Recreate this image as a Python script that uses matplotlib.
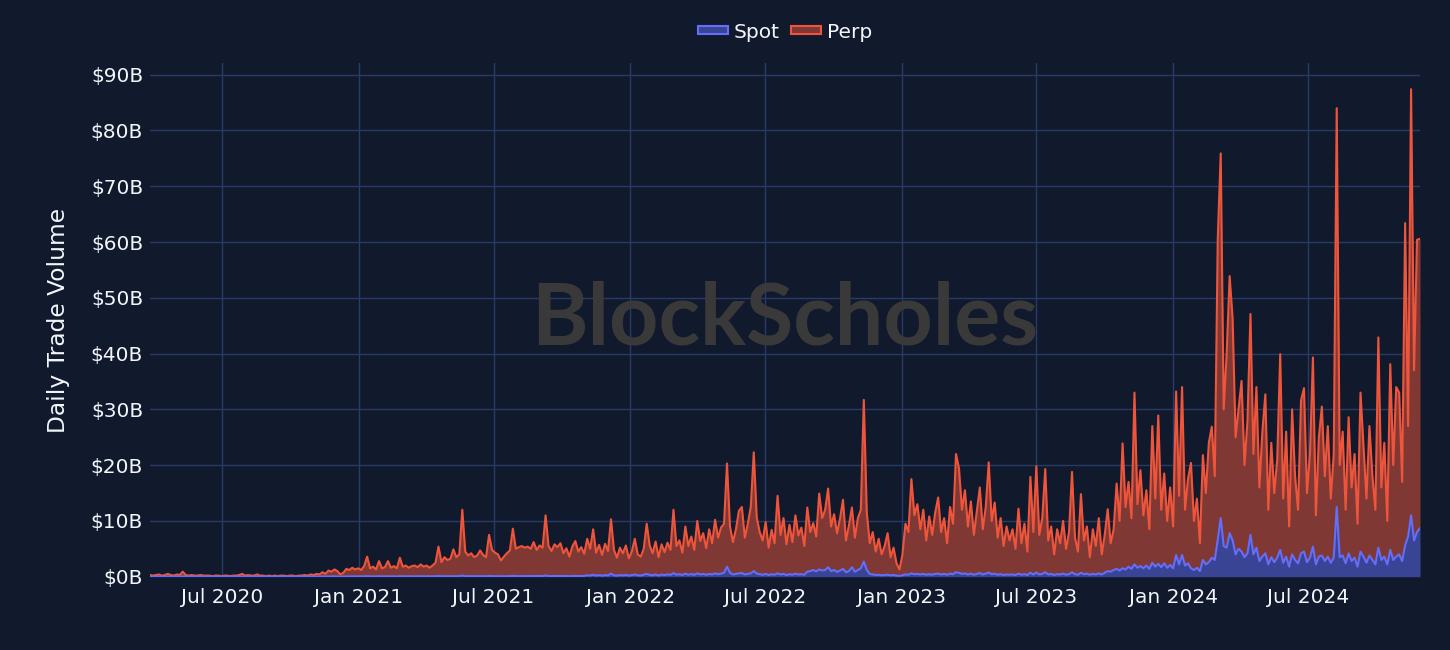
import matplotlib as mpl

mpl.use("Agg")
import matplotlib.pyplot as plt
import matplotlib.dates as mdates
import pandas as pd
from matplotlib.patches import Patch
from matplotlib.ticker import FuncFormatter

# daily volumes sampled every 4 days, in $B
START = "2020-03-26"
STEP = "4D"

PERP = [
    0.3, 0.2, 0.3, 0.4, 0.2, 0.3, 0.5, 0.3, 0.2, 0.4, 0.3, 0.9, 0.3, 0.2, 0.3, 0.2, 0.2, 0.3, 0.2, 0.2,
    0.2, 0.1, 0.2, 0.2, 0.1, 0.2, 0.2, 0.1, 0.2, 0.2, 0.3, 0.5, 0.2, 0.3, 0.2, 0.2, 0.4, 0.2, 0.2, 0.1,
    0.2, 0.1, 0.2, 0.1, 0.2, 0.2, 0.1, 0.2, 0.2, 0.1, 0.2, 0.2, 0.3, 0.2, 0.4, 0.3, 0.5, 0.4, 0.8, 0.5,
    1.1, 0.9, 1.3, 1.0, 0.4, 0.7, 1.4, 1.2, 1.6, 1.3, 1.5, 1.2, 1.9, 3.6, 1.5, 1.8, 1.3, 2.8, 1.5, 1.7,
    2.8, 1.6, 1.9, 1.5, 3.4, 1.8, 2.0, 1.6, 1.9, 2.0, 1.7, 2.2, 1.8, 2.0, 1.6, 2.0, 2.5, 5.4, 2.6, 3.5,
    3.0, 3.2, 4.9, 3.5, 4.0, 12.0, 4.5, 3.8, 4.2, 3.5, 3.8, 4.7, 3.9, 3.5, 7.5, 4.8, 4.3, 4.0, 2.9, 3.6,
    4.2, 4.7, 8.6, 5.0, 5.3, 5.5, 5.2, 5.4, 5.0, 6.2, 4.8, 5.6, 5.2, 11.0, 5.5, 4.6, 5.8, 5.3, 6.0, 4.2,
    5.1, 3.6, 5.4, 6.4, 4.5, 5.3, 4.1, 6.8, 5.0, 8.5, 4.3, 5.7, 3.9, 5.9, 4.6, 10.3, 4.8, 3.4, 5.2, 4.2,
    5.6, 3.3, 4.5, 6.8, 4.0, 3.6, 5.0, 9.5, 5.6, 4.2, 6.3, 3.5, 5.8, 4.4, 6.1, 4.8, 12.0, 5.5, 6.5, 4.3,
    9.0, 5.5, 7.2, 4.8, 10.0, 6.4, 7.8, 5.1, 8.5, 6.0, 10.2, 7.0, 8.8, 9.5, 20.3, 9.0, 6.2, 8.5, 11.8, 12.5,
    7.0, 9.5, 12.5, 22.3, 10.6, 8.0, 6.5, 9.8, 5.2, 8.4, 6.0, 14.5, 7.5, 10.5, 5.8, 9.3, 6.2, 11.0, 7.4, 8.8,
    5.5, 12.4, 8.0, 9.6, 7.2, 14.9, 10.5, 12.0, 15.8, 9.0, 11.2, 7.8, 10.4, 13.8, 6.5, 9.2, 12.4, 7.0, 10.5, 12.0,
    31.7, 11.5, 6.0, 8.0, 4.5, 6.8, 4.0, 5.5, 7.8, 3.5, 5.2, 2.4, 1.3, 4.0, 9.5, 8.0, 17.5, 11.0, 13.0, 8.5,
    12.0, 6.5, 10.8, 7.5, 11.5, 14.2, 8.0, 10.5, 6.0, 12.5, 9.5, 22.0, 19.4, 12.0, 15.5, 9.0, 13.5, 7.5, 11.8, 16.0,
    8.5, 12.5, 20.5, 10.0, 13.3, 7.0, 10.5, 5.5, 9.0, 6.5, 8.5, 5.0, 12.2, 6.0, 9.5, 4.5, 17.9, 8.0, 19.8, 7.5,
    10.5, 19.3, 6.5, 9.0, 4.0, 8.5, 6.0, 10.0, 5.0, 8.0, 18.8, 7.0, 4.5, 14.8, 6.5, 9.0, 3.5, 8.5, 5.5, 10.5,
    4.0, 7.5, 12.1, 6.0, 8.5, 16.7, 10.0, 23.9, 12.5, 17.0, 10.5, 33.0, 13.0, 19.1, 11.0, 15.5, 8.5, 27.0, 14.0, 28.9,
    12.0, 18.5, 10.0, 16.0, 9.0, 33.2, 14.5, 34.0, 12.0, 17.5, 20.4, 10.0, 14.0, 6.0, 21.8, 15.0, 24.0, 26.9, 18.0, 60.5,
    75.9, 30.0, 40.0, 53.9, 46.3, 25.0, 30.0, 35.1, 20.0, 28.0, 47.1, 22.0, 34.0, 16.0, 26.0, 32.7, 12.0, 24.0, 15.0, 21.0,
    39.9, 14.0, 26.0, 9.0, 30.0, 18.0, 12.0, 31.6, 33.8, 15.0, 22.0, 39.3, 11.0, 25.0, 30.5, 18.0, 27.0, 14.0, 22.0, 84.0,
    20.0, 26.0, 12.0, 28.6, 16.0, 22.0, 9.5, 33.0, 23.4, 14.0, 27.0, 18.0, 12.0, 42.9, 16.0, 24.0, 10.0, 38.1, 20.0, 34.0,
    33.0, 17.0, 63.4, 27.0, 87.4, 37.0, 60.4, 60.6,
]

SPOT = [
    0.03, 0.02, 0.03, 0.04, 0.02, 0.03, 0.03, 0.02, 0.02, 0.03, 0.03, 0.05, 0.03, 0.02, 0.02, 0.02, 0.02, 0.03, 0.02, 0.02,
    0.02, 0.01, 0.02, 0.02, 0.01, 0.02, 0.02, 0.01, 0.02, 0.02, 0.02, 0.03, 0.02, 0.02, 0.02, 0.02, 0.03, 0.02, 0.02, 0.01,
    0.02, 0.01, 0.02, 0.01, 0.02, 0.02, 0.01, 0.02, 0.02, 0.01, 0.02, 0.02, 0.02, 0.02, 0.03, 0.02, 0.03, 0.03, 0.04, 0.03,
    0.04, 0.04, 0.05, 0.04, 0.03, 0.04, 0.05, 0.05, 0.06, 0.05, 0.06, 0.05, 0.06, 0.09, 0.06, 0.06, 0.05, 0.08, 0.06, 0.06,
    0.08, 0.06, 0.07, 0.06, 0.09, 0.07, 0.07, 0.06, 0.07, 0.07, 0.06, 0.07, 0.07, 0.07, 0.06, 0.07, 0.08, 0.12, 0.08, 0.09,
    0.08, 0.09, 0.10, 0.09, 0.10, 0.20, 0.10, 0.09, 0.10, 0.09, 0.09, 0.10, 0.09, 0.09, 0.14, 0.10, 0.10, 0.09, 0.08, 0.09,
    0.10, 0.10, 0.15, 0.11, 0.11, 0.12, 0.11, 0.12, 0.11, 0.13, 0.11, 0.12, 0.12, 0.20, 0.12, 0.11, 0.13, 0.12, 0.13, 0.11,
    0.12, 0.10, 0.13, 0.14, 0.12, 0.14, 0.15, 0.25, 0.22, 0.35, 0.20, 0.30, 0.18, 0.28, 0.22, 0.55, 0.25, 0.18, 0.30, 0.22,
    0.32, 0.20, 0.28, 0.40, 0.25, 0.22, 0.35, 0.50, 0.32, 0.25, 0.40, 0.22, 0.38, 0.28, 0.42, 0.32, 0.65, 0.35, 0.45, 0.30,
    0.55, 0.35, 0.48, 0.32, 0.60, 0.40, 0.50, 0.35, 0.50, 0.40, 0.60, 0.45, 0.55, 0.70, 1.80, 0.70, 0.40, 0.50, 0.60, 0.65,
    0.40, 0.50, 0.60, 1.00, 0.55, 0.45, 0.35, 0.50, 0.30, 0.45, 0.35, 0.60, 0.40, 0.50, 0.30, 0.45, 0.35, 0.55, 0.40, 0.45,
    0.35, 0.90, 1.00, 1.20, 0.95, 1.30, 1.10, 1.20, 1.70, 1.00, 1.20, 0.85, 1.10, 1.40, 0.80, 1.00, 1.70, 0.90, 1.20, 1.50,
    2.70, 1.20, 0.50, 0.40, 0.30, 0.35, 0.25, 0.30, 0.35, 0.25, 0.30, 0.20, 0.15, 0.25, 0.40, 0.35, 0.60, 0.45, 0.50, 0.40,
    0.50, 0.35, 0.45, 0.35, 0.50, 0.55, 0.40, 0.50, 0.35, 0.55, 0.45, 0.80, 0.70, 0.50, 0.60, 0.40, 0.55, 0.35, 0.50, 0.65,
    0.40, 0.55, 0.75, 0.45, 0.55, 0.35, 0.45, 0.30, 0.40, 0.35, 0.40, 0.30, 0.55, 0.35, 0.45, 0.30, 0.70, 0.40, 0.75, 0.40,
    0.50, 0.80, 0.40, 0.50, 0.30, 0.45, 0.40, 0.55, 0.35, 0.45, 0.80, 0.45, 0.35, 0.70, 0.45, 0.55, 0.35, 0.50, 0.40, 0.60,
    0.40, 0.70, 1.00, 0.90, 1.20, 1.40, 1.10, 1.50, 1.30, 1.80, 1.40, 2.20, 1.60, 1.90, 1.50, 2.00, 1.40, 2.50, 1.80, 2.30,
    1.70, 2.40, 1.60, 2.10, 1.50, 3.90, 2.20, 3.90, 2.00, 2.40, 1.50, 1.20, 1.60, 1.00, 3.00, 2.20, 2.60, 3.40, 3.00, 6.60,
    10.50, 5.50, 5.20, 7.80, 6.50, 4.00, 5.00, 4.50, 3.50, 4.20, 7.50, 4.00, 5.20, 2.80, 3.60, 4.20, 2.20, 3.50, 2.60, 3.40,
    4.80, 2.50, 3.60, 1.80, 4.00, 3.00, 2.40, 4.20, 4.50, 2.60, 3.40, 5.40, 2.20, 3.60, 3.80, 2.80, 3.60, 2.50, 3.40, 12.50,
    3.50, 3.80, 2.40, 4.20, 2.80, 3.40, 1.80, 4.50, 3.60, 2.50, 3.80, 3.00, 2.20, 5.20, 3.00, 3.60, 2.20, 4.80, 3.00, 3.60,
    4.00, 2.80, 5.60, 7.20, 11.00, 6.50, 8.00, 8.70,
]

TICK_DATES = ["2020-07-01", "2021-01-01", "2021-07-01", "2022-01-01", "2022-07-01",
              "2023-01-01", "2023-07-01", "2024-01-01", "2024-07-01"]
Y_TICKS = [0, 10, 20, 30, 40, 50, 60, 70, 80, 90]

BG = "#111A2D"
GRID = "#283B66"
TEXT = "#F2F5FA"
SPOT_LINE = "#636EFA"
SPOT_FILL = "#3A4494"
PERP_LINE = "#EF553B"
PERP_FILL = "#803834"
MARK = "#393939"

mpl.rcParams["font.family"] = ["DejaVu Sans"]


def main():
    dates = pd.date_range(START, periods=len(PERP), freq=STEP)

    fig = plt.figure(figsize=(14.5, 6.5), dpi=100, facecolor=BG)
    ax = fig.add_axes([150 / 1450, 1 - 576.7 / 650, 1270 / 1450, 513.7 / 650])
    ax.set_facecolor(BG)

    ax.fill_between(dates, 0, SPOT, color=SPOT_FILL, lw=0, zorder=3)
    ax.fill_between(dates, SPOT, PERP, color=PERP_FILL, lw=0, zorder=2)
    ax.plot(dates, PERP, color=PERP_LINE, lw=1.5, zorder=4, solid_joinstyle="round")
    ax.plot(dates, SPOT, color=SPOT_LINE, lw=1.5, zorder=5, solid_joinstyle="round")

    # watermark
    ax.text(0.5, 0.5, "BlockScholes", transform=ax.transAxes, ha="center", va="center",
            fontsize=62, fontweight="bold", color=MARK, family=["Lato", "DejaVu Sans"],
            zorder=1.5)

    ax.set_xlim(dates[0], dates[-1])
    ax.set_ylim(0, 92.1)
    ax.set_xticks(pd.to_datetime(TICK_DATES))
    ax.xaxis.set_major_formatter(mdates.DateFormatter("%b %Y"))
    ax.set_yticks(Y_TICKS)
    ax.yaxis.set_major_formatter(FuncFormatter(lambda v, _: f"${v:.0f}B"))
    ax.tick_params(length=0, colors=TEXT, labelsize=14.5)
    ax.tick_params(axis="x", pad=8)
    ax.tick_params(axis="y", pad=5)
    ax.grid(True, color=GRID, lw=1.0, zorder=0)
    ax.set_axisbelow(True)
    for s in ax.spines.values():
        s.set_visible(False)

    fig.text(58 / 1450, 1 - 320 / 650, "Daily Trade Volume", rotation=90, ha="center",
             va="center", color=TEXT, fontsize=16.8)

    handles = [
        Patch(facecolor=SPOT_FILL, edgecolor=SPOT_LINE, lw=1.5, label="Spot"),
        Patch(facecolor=PERP_FILL, edgecolor=PERP_LINE, lw=1.5, label="Perp"),
    ]
    fig.legend(handles=handles, loc="center", bbox_to_anchor=(785 / 1450, 1 - 32 / 650), ncol=2,
               frameon=False, fontsize=14.5, labelcolor=TEXT, handlelength=1.5, handleheight=0.25,
               handletextpad=0.3, columnspacing=0.55, borderpad=0.2)

    fig.savefig("out.png", dpi=100, facecolor=BG)


if __name__ == "__main__":
    main()
